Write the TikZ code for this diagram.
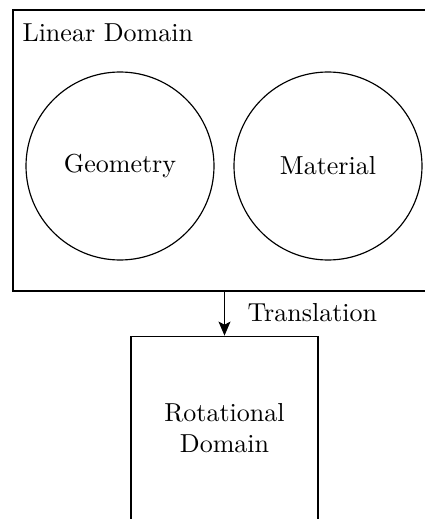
\documentclass[tikz,border=0pt]{standalone}
\usetikzlibrary{arrows.meta}
\begin{document}
\begin{tikzpicture}[x=0.3846pt,y=-0.3846pt,
  box/.style={draw,line width=0.45pt,inner sep=0pt},
  circ/.style={draw,circle,line width=0.45pt,minimum size=72.3pt,inner sep=0pt},
  lbl/.style={inner sep=0pt}]
\useasboundingbox (0,0) rectangle (425,519);
\node[box,minimum width=160pt,minimum height=108.07pt] (lin) at (221,150.5) {};
\node[lbl,anchor=base west] (lintxt) at (22,42) {Linear Domain};
\node[circ] (geo) at (120,166) {Geometry};
\node[circ] (mat) at (328,166) {Material};
\node[box,minimum width=71.92pt,minimum height=71pt,align=center] (rot) at (224.5,428.5) {Rotational\\Domain};
\draw[-{Stealth[length=5.4pt,width=4.6pt,inset=1.2pt]},line width=0.45pt] (rot.north |- lin.south) -- (rot.north);
\node[lbl,anchor=base west] (tr) at (247,321) {Translation};
\end{tikzpicture}
\end{document}
